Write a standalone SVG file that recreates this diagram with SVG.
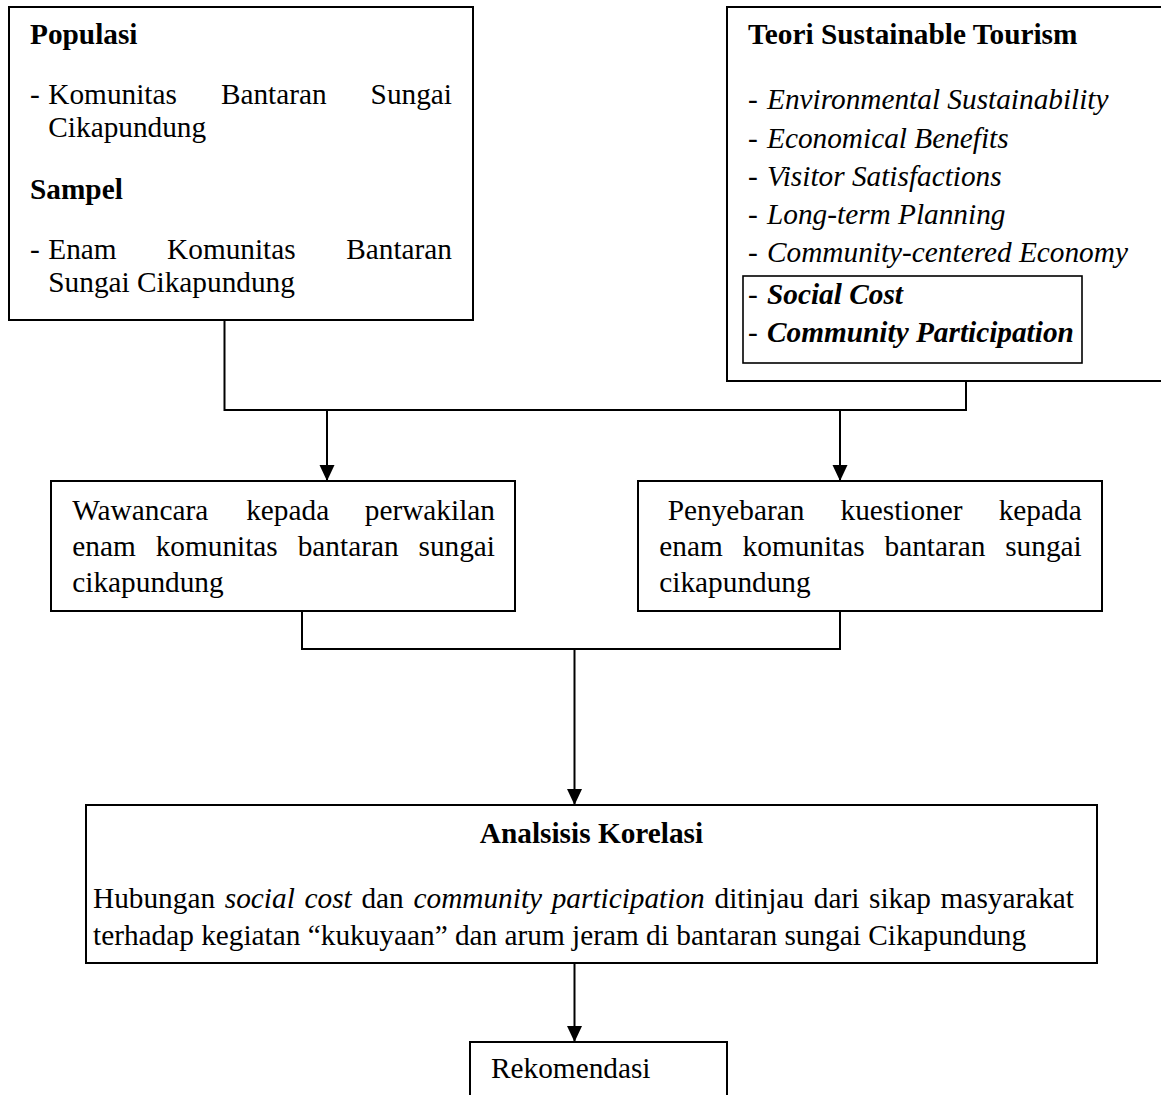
<svg xmlns="http://www.w3.org/2000/svg" width="1161" height="1095" viewBox="0 0 1161 1095">
<style>
.box{fill:#fff;stroke:#000;stroke-width:2}
.inner{fill:none;stroke:#000;stroke-width:1.6}
.con{fill:none;stroke:#000;stroke-width:2}
text{font-family:"Liberation Serif","Times New Roman",serif;font-size:29.3px;fill:#000}
.b{font-weight:bold}
.i{font-style:italic}
.bi{font-weight:bold;font-style:italic}
</style>
<defs>
<marker id="ah" markerWidth="16" markerHeight="16" refX="16" refY="8" orient="auto" markerUnits="userSpaceOnUse">
<path d="M0,0.5 L16,8 L0,15.5 z" fill="#000"/>
</marker>
</defs>
<rect width="1161" height="1095" fill="#fff"/>

<g id="connectors">
<path class="con" d="M224.5,320 V410 H966 V381"/>
<path class="con" d="M327,410 V481" marker-end="url(#ah)"/>
<path class="con" d="M840,410 V481" marker-end="url(#ah)"/>
<path class="con" d="M302,611 V649 H840 V611"/>
<path class="con" d="M574.5,649 V805" marker-end="url(#ah)"/>
<path class="con" d="M574.5,963 V1042" marker-end="url(#ah)"/>
</g>

<g id="populasi">
<rect class="box" x="9" y="7" width="464" height="313"/>
<text class="b" x="30" y="44">Populasi</text>
<text y="104"><tspan x="30">-</tspan><tspan x="48.3">Komunitas</tspan><tspan x="220.9">Bantaran</tspan><tspan x="370.6">Sungai</tspan></text>
<text x="48.3" y="137">Cikapundung</text>
<text class="b" x="30" y="199">Sampel</text>
<text y="258.5"><tspan x="30">-</tspan><tspan x="48.3">Enam</tspan><tspan x="167.1">Komunitas</tspan><tspan x="346.2">Bantaran</tspan></text>
<text x="48.3" y="292">Sungai Cikapundung</text>
</g>

<g id="teori">
<rect class="box" x="727" y="7" width="460" height="374"/>
<text class="b" x="748" y="44">Teori Sustainable Tourism</text>
<text y="109"><tspan x="748">-</tspan><tspan class="i" x="767">Environmental Sustainability</tspan></text>
<text y="147.5"><tspan x="748">-</tspan><tspan class="i" x="767">Economical Benefits</tspan></text>
<text y="185.5"><tspan x="748">-</tspan><tspan class="i" x="767">Visitor Satisfactions</tspan></text>
<text y="224"><tspan x="748">-</tspan><tspan class="i" x="767">Long-term Planning</tspan></text>
<text y="262"><tspan x="748">-</tspan><tspan class="i" x="767">Community-centered Economy</tspan></text>
<g id="highlight">
<rect class="inner" x="743" y="276" width="339" height="87"/>
<text y="304"><tspan x="748">-</tspan><tspan class="bi" x="767">Social Cost</tspan></text>
<text y="341.5"><tspan x="748">-</tspan><tspan class="bi" x="767">Community Participation</tspan></text>
</g>
</g>

<g id="wawancara">
<rect class="box" x="51" y="481" width="464" height="130"/>
<text y="520"><tspan x="72.3">Wawancara</tspan><tspan x="246.2">kepada</tspan><tspan x="364.8">perwakilan</tspan></text>
<text y="556"><tspan x="72.3">enam</tspan><tspan x="155.7">komunitas</tspan><tspan x="297.7">bantaran</tspan><tspan x="418.5">sungai</tspan></text>
<text x="72.3" y="592">cikapundung</text>
</g>

<g id="kuestioner">
<rect class="box" x="638" y="481" width="464" height="130"/>
<text y="520"><tspan x="667.7">Penyebaran</tspan><tspan x="840.5">kuestioner</tspan><tspan x="998.7">kepada</tspan></text>
<text y="556"><tspan x="659.3">enam</tspan><tspan x="742.6">komunitas</tspan><tspan x="884.5">bantaran</tspan><tspan x="1005.2">sungai</tspan></text>
<text x="659.3" y="592">cikapundung</text>
</g>

<g id="analisis">
<rect class="box" x="86" y="805" width="1011" height="158"/>
<text class="b" x="591.5" y="843" text-anchor="middle">Analsisis Korelasi</text>
<text y="908"><tspan x="93">Hubungan</tspan><tspan class="i" x="224.8">social</tspan><tspan class="i" x="304.5">cost</tspan><tspan x="361.4">dan</tspan><tspan class="i" x="413.5">community</tspan><tspan class="i" x="551.7">participation</tspan><tspan x="714.5">ditinjau</tspan><tspan x="813.8">dari</tspan><tspan x="869">sikap</tspan><tspan x="940.6">masyarakat</tspan></text>
<text x="93" y="945">terhadap kegiatan “kukuyaan” dan arum jeram di bantaran sungai Cikapundung</text>
</g>

<g id="rekomendasi">
<rect class="box" x="470" y="1042" width="257" height="70"/>
<text x="491" y="1078">Rekomendasi</text>
</g>
</svg>
